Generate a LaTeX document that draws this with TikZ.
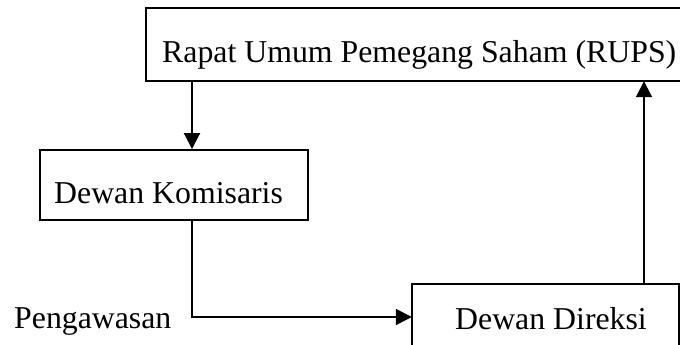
\documentclass[tikz,border=0pt]{standalone}
\usepackage{fontspec}
\setmainfont{Liberation Serif}
\usetikzlibrary{arrows.meta}
\begin{document}
\begin{tikzpicture}[x=1pt,y=-1pt,
  box/.style={draw,line width=1.9pt,inner sep=0pt,rectangle},
  area/.style={inner sep=0pt,rectangle},
  edge/.style={line width=1.9pt},
  lbl/.style={anchor=base west,inner sep=0pt,font=\fontsize{31.8}{38}\selectfont},
  conn/.style={line width=1.9pt,-{Triangle[length=16pt,width=16pt]}}]
\useasboundingbox (0,0) rectangle (680,345);
% boxes
\node[area,minimum width=534pt,minimum height=73pt] (rups) at (413,44.5) {};
\draw[edge] (rups.north east) -- (rups.north west) -- (rups.south west) -- (rups.south east);
\node[box,minimum width=268pt,minimum height=70pt] (dk) at (174,185) {};
\node[area,minimum width=267pt,minimum height=61pt] (dd) at (545.5,314.5) {};
\draw[edge] (dd.south west) -- (dd.north west) -- (dd.north east) -- (dd.south east);
% labels
\node[lbl] (trups) at (162,63) {Rapat Umum Pemegang Saham (RUPS)};
\node[lbl] (tdk) at (54,203) {Dewan Komisaris};
\node[lbl] (tdd) at (455,329) {Dewan Direksi};
\node[lbl] (tpeng) at (14,328) {Pengawasan};
% connectors
\coordinate (c1) at (192,0);
\coordinate (c2) at (644,0);
\coordinate (bend) at (192,317);
\draw[conn] (rups.south -| c1) -- (dk.north -| c1);
\draw[conn] (dk.south -| c1) -- (bend) -- (bend -| dd.west);
\draw[conn] (dd.north -| c2) -- (rups.south -| c2);
\end{tikzpicture}
\end{document}
